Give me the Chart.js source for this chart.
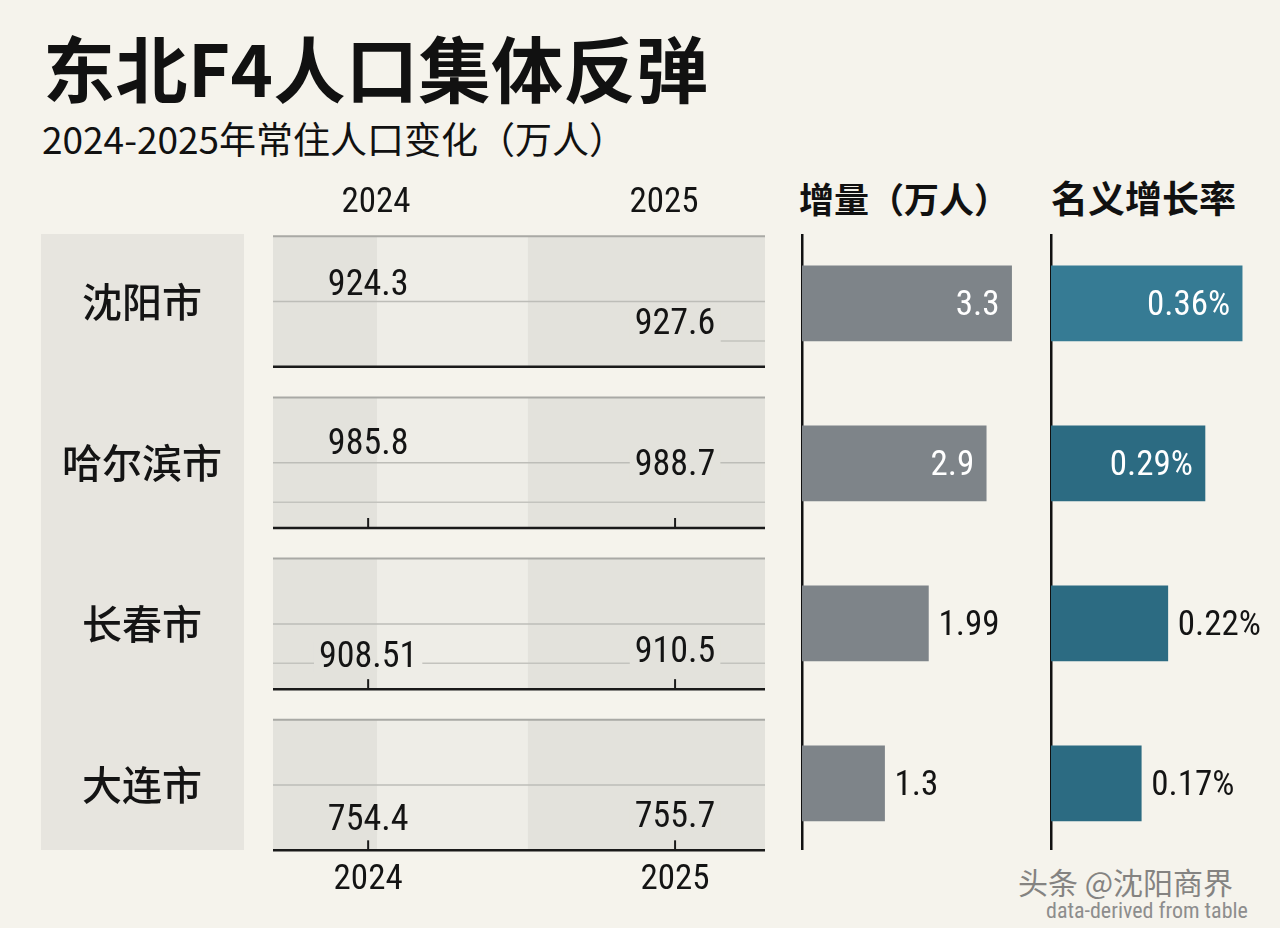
<!DOCTYPE html>
<html>
<head>
<meta charset="utf-8">
<script src="https://cdn.jsdelivr.net/npm/chart.js@4.4.1/dist/chart.umd.min.js"></script>
<style>
  html, body { margin:0; padding:0; width:1280px; height:928px; overflow:hidden; background:#f5f3ec; position:relative;
    font-family:"Noto Sans CJK SC", sans-serif; color:#111; }
  .abs { position:absolute; line-height:1; white-space:nowrap; }
  #title { left:43px; top:30px; font-size:72px; font-weight:700; letter-spacing:0.5px; }
  #subtitle { left:42px; top:120px; font-size:37px; font-weight:400; }
  .hdr { top:180px; font-weight:700; }
  #wm { left:1018px; top:866px; font-size:30px; color:#555; opacity:.7; }
  #src { left:1046px; top:900px; font-size:22px; color:#8d8d8d; font-family:"Roboto Condensed", Roboto, sans-serif; }
  .box { position:absolute; }
</style>
</head>
<body>
<div id="title" class="abs">东北F4人口集体反弹</div>
<div id="subtitle" class="abs">2024-2025年常住人口变化（万人）</div>
<div class="abs hdr" style="left:799px; font-size:35px;">增量（万人）</div>
<div class="abs hdr" style="left:1051px; font-size:37px; top:179px;">名义增长率</div>

<div class="box" style="left:41px; top:170px; width:724px; height:730px;"><canvas id="popChart"></canvas></div>
<div class="box" style="left:800px; top:234px; width:244px; height:616px;"><canvas id="incChart"></canvas></div>
<div class="box" style="left:1049px; top:234px; width:225px; height:616px;"><canvas id="rateChart"></canvas></div>

<div id="wm" class="abs">头条 @沈阳商界</div>
<div id="src" class="abs">data-derived from table</div>

<script>
// ---------------- data ----------------
const cities = ['沈阳市', '哈尔滨市', '长春市', '大连市'];
const years = ['2024', '2025'];
const pop2024 = [924.3, 985.8, 908.51, 754.4];
const pop2025 = [927.6, 988.7, 910.5, 755.7];
const increment = [3.3, 2.9, 1.99, 1.3];
const growthRate = [0.36, 0.29, 0.22, 0.17];

// ---------------- layout / style ----------------
const NUM_FAMILY = '"Roboto Condensed", Roboto, sans-serif';
const numFont = size => size + 'px ' + NUM_FAMILY;
const LABEL_DY = [[-19, -21, 31, 33], [20, 0, 26, 30]];   // vertical offsets of value labels inside panels
const SUB_LINE = [[0.91, 1], [0, 1], [0, 1], null];        // extra light rule per panel (x-extent as fraction)
const DARK = '#e3e2dc', LIGHT = '#eeede7';

function panelBands(ctx, a, x, top, bot) {
  const l1 = x.getPixelForValue(2024.03), l2 = x.getPixelForValue(2024.52);
  ctx.fillStyle = DARK; ctx.fillRect(a.left, top, l1 - a.left, bot - top);
  ctx.fillStyle = LIGHT; ctx.fillRect(l1, top, l2 - l1, bot - top);
  ctx.fillStyle = DARK; ctx.fillRect(l2, top, a.right - l2, bot - top);
}

const panelPlugin = {
  id: 'panels',
  beforeDraw(chart) {
    const { ctx, chartArea: a, scales: { x, y } } = chart;
    ctx.save();
    ctx.fillStyle = '#e7e5df';
    ctx.fillRect(0, a.top, a.left - 29, a.bottom - a.top);
    cities.forEach((c, i) => {
      const top = y.getPixelForValue(i - 0.405), bot = y.getPixelForValue(i + 0.405), mid = y.getPixelForValue(i);
      panelBands(ctx, a, x, top, bot);
      ctx.strokeStyle = '#a9a9a5'; ctx.lineWidth = 2;
      ctx.beginPath(); ctx.moveTo(a.left, top); ctx.lineTo(a.right, top); ctx.stroke();
      ctx.strokeStyle = '#bdbdb8'; ctx.lineWidth = 1.5;
      ctx.beginPath(); ctx.moveTo(a.left, mid); ctx.lineTo(a.right, mid); ctx.stroke();
      if (SUB_LINE[i]) {
        const sy = y.getPixelForValue(i + 0.245), w = a.right - a.left;
        ctx.strokeStyle = '#c3c3be'; ctx.lineWidth = 1.5;
        ctx.beginPath(); ctx.moveTo(a.left + SUB_LINE[i][0] * w, sy); ctx.lineTo(a.left + SUB_LINE[i][1] * w, sy); ctx.stroke();
      }
      ctx.strokeStyle = '#1a1a1a'; ctx.lineWidth = 2.5;
      ctx.beginPath(); ctx.moveTo(a.left, bot); ctx.lineTo(a.right, bot); ctx.stroke();
      if (i > 0) {
        ctx.lineWidth = 2;
        years.forEach(yr => {
          const px = x.getPixelForValue(+yr);
          ctx.beginPath(); ctx.moveTo(px, bot); ctx.lineTo(px, bot - 10); ctx.stroke();
        });
      }
    });
    ctx.restore();
  },
  afterDatasetsDraw(chart) {
    const { ctx, chartArea: a, scales: { x, y } } = chart;
    ctx.save();
    ctx.font = numFont(36);
    ctx.textAlign = 'center'; ctx.textBaseline = 'middle';
    chart.data.datasets.forEach((ds, d) => {
      const meta = chart.getDatasetMeta(d);
      meta.data.forEach((pt, i) => {
        const txt = String(ds.data[i].v);
        const ty = pt.y + LABEL_DY[d][i];
        const w = ctx.measureText(txt).width + 10;
        const top = y.getPixelForValue(i - 0.405), bot = y.getPixelForValue(i + 0.405);
        ctx.save();
        ctx.beginPath(); ctx.rect(pt.x - w / 2, ty - 13, w, 30); ctx.clip();
        panelBands(ctx, a, x, top + 2, bot - 2);
        ctx.restore();
        ctx.fillStyle = '#141414';
        ctx.fillText(txt, pt.x, ty + 3);
      });
    });
    ctx.restore();
  }
};

const zeroPad = s => { s.paddingLeft = 0; s.paddingRight = 0; s.paddingTop = 0; s.paddingBottom = 0; };

const xCommon = (pos, pad, h, min, max) => ({
  type: 'linear', position: pos, axis: 'x', min: min, max: max,
  afterBuildTicks: s => { s.ticks = years.map(v => ({ value: +v })); },
  afterFit: s => { s.height = h; zeroPad(s); },
  ticks: { callback: v => String(v), font: { family: NUM_FAMILY, size: 35 },
           color: '#141414', padding: pad, maxRotation: 0, autoSkip: false },
  grid: { display: false, drawTicks: false },
  border: { display: false }
});

new Chart(document.getElementById('popChart'), {
  type: 'scatter',
  data: {
    datasets: [
      { label: years[0], data: pop2024.map((v, i) => ({ x: +years[0], y: i, v })), pointRadius: 0 },
      { label: years[1], data: pop2025.map((v, i) => ({ x: +years[1], y: i, v })), pointRadius: 0 }
    ]
  },
  options: {
    responsive: true, maintainAspectRatio: false, animation: false,
    layout: { padding: 0 },
    plugins: { legend: { display: false }, tooltip: { enabled: false } },
    scales: {
      x: xCommon('bottom', 9, 50, 2023.69, 2025.293),
      xTop: xCommon('top', 10, 64, 2023.642, 2025.351),
      y: {
        type: 'linear', reverse: true, min: -0.419, max: 3.403,
        afterBuildTicks: s => { s.ticks = cities.map((c, i) => ({ value: i })); },
        afterFit: s => { s.width = 232; zeroPad(s); },
        ticks: { callback: v => cities[v], crossAlign: 'center', padding: 51,
                 font: { family: '"Noto Sans CJK SC", sans-serif', size: 40, weight: '500' }, color: '#141414' },
        grid: { display: false, drawTicks: false },
        border: { display: false }
      }
    }
  },
  plugins: [panelPlugin]
});

const barLabelPlugin = {
  id: 'barLabels',
  afterDatasetsDraw(chart, args, opts) {
    const { ctx } = chart;
    const ds = chart.data.datasets[0];
    const meta = chart.getDatasetMeta(0);
    const maxV = Math.max(...ds.data.map(d => d.x));
    ctx.save();
    ctx.font = numFont(35);
    ctx.textBaseline = 'middle';
    meta.data.forEach((bar, i) => {
      const v = ds.data[i].x;
      const txt = opts.format(v);
      if (v >= 0.75 * maxV) {
        ctx.fillStyle = '#ffffff'; ctx.textAlign = 'right';
        ctx.fillText(txt, bar.x - 12, bar.y + 3);
      } else {
        ctx.fillStyle = '#141414'; ctx.textAlign = 'left';
        ctx.fillText(txt, bar.x + 10, bar.y + 3);
      }
    });
    ctx.restore();
  }
};

function barChart(id, values, max, colors, fmt) {
  return new Chart(document.getElementById(id), {
    type: 'bar',
    data: { datasets: [{ data: values.map((v, i) => ({ x: v, y: i })), backgroundColor: colors, borderWidth: 0, barThickness: 75 }] },
    options: {
      indexAxis: 'y', responsive: true, maintainAspectRatio: false, animation: false,
      layout: { padding: { left: 2, right: 0, top: 0, bottom: 0 } },
      plugins: { legend: { display: false }, tooltip: { enabled: false }, barLabels: { format: fmt } },
      scales: {
        x: { type: 'linear', min: 0, max: max, display: false },
        y: { type: 'linear', reverse: true, offset: false, min: -0.434, max: 3.416,
             ticks: { display: false }, grid: { display: false, drawTicks: false },
             border: { display: true, color: '#111', width: 2.5 } }
      }
    },
    plugins: [barLabelPlugin]
  });
}

barChart('incChart', increment, 3.81, '#7e8489', v => String(v));
barChart('rateChart', growthRate, 0.42, ['#367b94', '#2c6b82', '#2c6b82', '#2c6b82'], v => v.toFixed(2) + '%');
</script>
</body>
</html>
